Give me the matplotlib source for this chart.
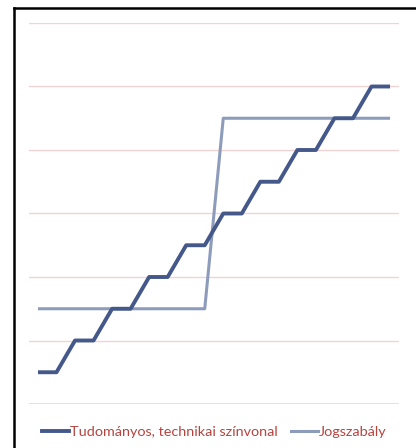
import matplotlib
matplotlib.use("Agg")
from matplotlib import pyplot as plt
from matplotlib.lines import Line2D

# 20 category points
idx = list(range(20))
tudomanyos = [0.5, 0.5, 1, 1, 1.5, 1.5, 2, 2, 2.5, 2.5,
              3, 3, 3.5, 3.5, 4, 4, 4.5, 4.5, 5, 5]
jogszabaly = [1.5] * 10 + [4.5] * 10
labels = ["Tudományos, technikai színvonal", "Jogszabály"]

dark = "#44588a"
light = "#8e9cbc"
textred = "#b5443f"

fig = plt.figure(figsize=(4.16, 4.48), dpi=100)
plt.rcParams['font.family'] = ['Lato', 'DejaVu Sans']

# frame around the chart (only top and left visible in the crop)
fig.add_artist(Line2D([13.5/416, 13.5/416], [0, 1 - 8/448], color="black", lw=1.8))
fig.add_artist(Line2D([13.5/416, 1], [1 - 8/448, 1 - 8/448], color="black", lw=1.8))

ax = fig.add_axes([28.7/416, 44/448, (399.3 - 28.7)/416, (404 - 23)/448])
ax.set_xlim(-0.5, 19.5)
ax.set_ylim(0, 6)
for y in range(1, 7):
    ax.axhline(y, color="#f1d3d3", lw=1, zorder=0)
ax.axhline(0, color="#e3d9e0", lw=1.2, zorder=0)

ax.plot(idx, tudomanyos, color=dark, lw=2.8, solid_capstyle="butt", zorder=3)
ax.plot(idx, jogszabaly, color=light, lw=2.2, solid_capstyle="butt", zorder=2)

for s in ax.spines.values():
    s.set_visible(False)
ax.set_xticks([])
ax.set_yticks([])

h1 = Line2D([], [], color=dark, lw=2.8)
h2 = Line2D([], [], color=light, lw=2.2)
leg = fig.legend([h1, h2], labels, loc="center", bbox_to_anchor=(214/416, 1 - 432/448),
                 ncol=2, frameon=False, fontsize=10.4, handlelength=1.9,
                 handletextpad=0.05, columnspacing=0.9)
for t in leg.get_texts():
    t.set_color(textred)

fig.savefig("out.png", dpi=100)
